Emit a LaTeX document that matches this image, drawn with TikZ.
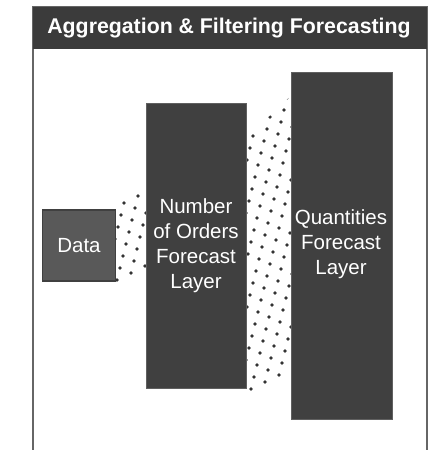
\documentclass[tikz,border=0pt]{standalone}
\usepackage{fontspec}
\setmainfont{Liberation Sans}
\begin{document}
\begin{tikzpicture}[x=1pt,y=-1pt,
  bigbox/.style={draw=gray!75!black, line width=0.8pt, fill=black!75},
  databox/.style={draw=black!75, line width=1.5pt, fill=black!65},
  boxtext/.style={text=white, font=\fontsize{20.5}{25}\selectfont, align=center},
  dotfill/.style={fill=black!80}]
\useasboundingbox (0,0) rectangle (446,450);
% frame and title bar
\draw[draw=black!60, line width=1.6pt] (33,470) -- (33,7) -- (427,7) -- (427,470);
\fill[black!77] (33,7) rectangle (427,49);
\node[text=white, font=\fontsize{21.3}{25}\bfseries\selectfont] (title) at (229,28.5) {Aggregation \& Filtering Forecasting};
% dotted bands
\begin{scope}
\clip (114,204) -- (148,183) -- (148,266) -- (114,288) -- cycle;
\foreach \i in {-6,...,6}{
  \foreach \j in {-4,...,14}{
    \fill[dotfill] ({116+11*\i-3*\j},{186+5*\i+12*\j}) circle (1.9);
  }
}
\end{scope}
\begin{scope}
\clip (246,138) -- (292,95) -- (292,374) -- (246,395) -- cycle;
\foreach \i in {-8,...,8}{
  \foreach \j in {-6,...,34}{
    \fill[dotfill] ({262+11*\i-3*\j},{100+5*\i+12*\j}) circle (1.9);
  }
}
\end{scope}
% boxes
\node[databox, minimum width=73pt, minimum height=71pt, inner sep=0pt] (data) at (79,245.5) {};
\node[boxtext] at (data.center) {Data};
\node[bigbox, minimum width=100pt, minimum height=285pt, inner sep=0pt] (orders) at (196,245.5) {};
\node[boxtext, anchor=center] (orderstext) at (196,246) {Number\\of Orders\\Forecast\\Layer};
\node[bigbox, minimum width=101pt, minimum height=347pt, inner sep=0pt] (qty) at (341.5,245.5) {};
\node[boxtext, anchor=center] (qtytext) at (341,244) {Quantities\\Forecast\\Layer};
\end{tikzpicture}
\end{document}
